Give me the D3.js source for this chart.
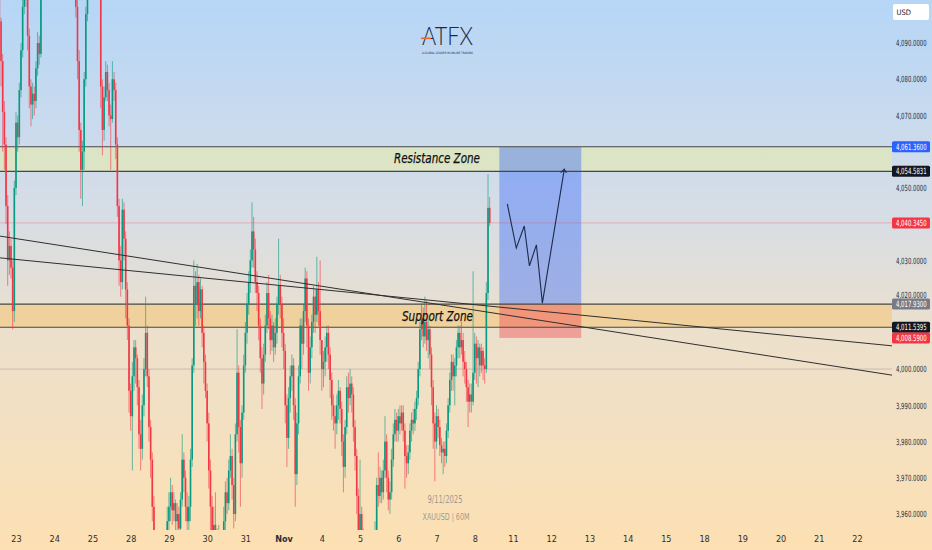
<!DOCTYPE html>
<html lang="en">

<head>
    <meta charset="UTF-8">
    <meta name="viewport" content="width=device-width, initial-scale=1.0">
    <script src="https://d3js.org/d3.v7.min.js"></script>
    <title>XAUUSD 60M</title>
    <style>
        body { margin: 0; }
        svg { display: block; }
    </style>
</head>

<body>
    <div id="container"></div>
    <script>
        const width = 932, height = 550;
        const plotRight = 892, plotBottom = 530;

        // hourly candles, open = previous close; first row is the tail of the 22nd
        const firstOpen = 4106;
        const startIndex = -10;
        const closes = [
            4096, 4085, 4071, 4062, 4045, 4030, 4034, 4028, 4016, 4050,
            4068, 4064, 4077, 4088, 4100, 4108, 4104, 4092, 4078, 4073, 4076, 4074, 4083, 4090, 4087, 4104, 4110, 4115, 4112, 4118, 4114, 4110, 4113,
            4118, 4122, 4119, 4125, 4121, 4116, 4120, 4124, 4119, 4114, 4117, 4112, 4108, 4100, 4085, 4066, 4055, 4060, 4080, 4098, 4108, 4112, 4115,
            4118, 4112, 4116, 4110, 4106, 4078, 4066, 4075, 4082, 4077, 4070, 4069, 4080, 4077, 4062, 4045, 4030, 4024, 4044, 4036, 4022, 4012, 3994,
            3987, 3998, 4006, 4003, 3995, 3982, 3978, 3990, 4000, 4010, 3998, 3984, 3975, 3962, 3952, 3945, 3940, 3944, 3938, 3942, 3946, 3950, 3958,
            3962, 3966, 3961, 3963, 3958, 3960, 3956, 3964, 3975, 3970, 3962, 3958, 3962, 3975, 4001, 4023, 4018, 4024, 4016, 4022, 4010, 4002, 3994,
            3985, 3972, 3962, 3952, 3957, 3953, 3949, 3953, 3948, 3952, 3958, 3966, 3963, 3972, 3976, 3968, 3960, 3982, 3999, 3984, 3974, 3988, 4001,
            4010, 4018, 4024, 4030, 4038, 4033, 4024, 4021, 4012, 4003, 3996, 4004, 4012, 4021, 4014, 4008, 4012, 4006, 4010, 4018, 4023, 4018, 4010,
            4005, 3990, 3981, 3992, 3998, 4001, 3990, 3971, 3985, 3998, 4012, 4007, 4016, 4025, 4012, 3999, 4006, 4013, 4020, 4015, 4022, 4016, 4008,
            4000, 4002, 4006, 4010, 4004, 3997, 3990, 3987, 3985, 3990, 3994, 3989, 3980, 3973, 3984, 3995, 3992, 3996, 3993, 3984, 3976, 3965, 3954,
            3960, 3955, 3950, 3946, 3942, 3945, 3940, 3944, 3948, 3955, 3968, 3965, 3970, 3966, 3972, 3980, 3970, 3964, 3966, 3975, 3982, 3986, 3983,
            3987, 3985, 3988, 3983, 3976, 3974, 3977, 3983, 3986, 3985, 3989, 3992, 4000, 4011, 4014, 4009, 4013, 4008, 4011, 4004, 3995, 3985, 3980,
            3987, 3984, 3979, 3977, 3978, 3976, 3983, 3990, 3997, 4002, 3998, 4001, 4006, 4010, 4006, 4008, 4002, 4000, 3995, 3991, 3993, 3991, 3999,
            4007, 4003, 4006, 4001, 4005, 4001, 4000, 4021, 4044.5, 4040.345
        ];
        const highs = [
            4110, 4097, 4087, 4074, 4064, 4048, 4038, 4036, 4030, 4052,
            4071, 4070, 4079, 4090, 4103, 4112, 4110, 4106, 4094, 4080, 4079, 4078, 4085, 4093, 4092, 4106, 4113, 4119, 4118, 4121, 4120, 4116, 4117,
            4121, 4126, 4125, 4128, 4127, 4123, 4123, 4127, 4126, 4121, 4120, 4119, 4114, 4110, 4102, 4088, 4068, 4063, 4082, 4100, 4112, 4116, 4119,
            4122, 4120, 4119, 4117, 4112, 4108, 4080, 4078, 4085, 4084, 4079, 4073, 4085, 4082, 4079, 4064, 4047, 4034, 4047, 4046, 4038, 4024, 4014,
            3996, 4002, 4008, 4008, 4004, 3997, 3986, 3993, 4003, 4020, 4012, 4000, 3986, 3977, 3965, 3955, 3950, 3949, 3947, 3948, 3952, 3954, 3962,
            3966, 3970, 3968, 3966, 3964, 3963, 3962, 3966, 3982, 3977, 3972, 3966, 3965, 3978, 4003, 4030, 4027, 4029, 4026, 4025, 4023, 4012, 4004,
            3996, 3988, 3975, 3965, 3962, 3966, 3956, 3957, 3955, 3955, 3962, 3969, 3970, 3975, 3982, 3978, 3970, 3985, 4011, 4001, 3986, 3990, 4004,
            4013, 4021, 4027, 4033, 4046, 4042, 4036, 4027, 4023, 4014, 4006, 4007, 4015, 4024, 4026, 4016, 4015, 4013, 4014, 4020, 4036, 4026, 4020,
            4014, 4007, 3993, 3995, 4001, 4004, 4003, 3992, 3988, 4001, 4014, 4014, 4018, 4028, 4027, 4014, 4009, 4015, 4023, 4022, 4031, 4024, 4030,
            4008, 4005, 4009, 4012, 4012, 4006, 3999, 3993, 3990, 3993, 3997, 3995, 3991, 3982, 3986, 3998, 3999, 4000, 3998, 3995, 3986, 3978, 3967,
            3975, 3962, 3956, 3952, 3950, 3949, 3947, 3948, 3952, 3958, 3970, 3977, 3973, 3972, 3975, 3987, 3982, 3972, 3969, 3978, 3985, 3989, 3988,
            3989, 3990, 3990, 3990, 3985, 3979, 3979, 3985, 3988, 3989, 3991, 3994, 4002, 4013, 4018, 4017, 4020, 4019, 4014, 4012, 4006, 3997, 3988,
            3990, 3989, 3986, 3981, 3980, 3980, 3985, 3992, 3999, 4004, 4004, 4003, 4008, 4012, 4012, 4013, 4010, 4005, 4002, 3997, 3996, 3996, 4027,
            4010, 4009, 4008, 4007, 4007, 4006, 4003, 4024, 4053.8, 4047.5
        ];
        const lows = [
            4092, 4078, 4060, 4055, 4040, 4023, 4026, 4025, 4011, 4013,
            4048, 4060, 4062, 4075, 4086, 4098, 4100, 4088, 4072, 4067, 4069, 4070, 4072, 4081, 4084, 4086, 4103, 4108, 4108, 4110, 4110, 4106, 4107,
            4110, 4115, 4114, 4117, 4116, 4112, 4113, 4117, 4115, 4110, 4111, 4108, 4105, 4097, 4080, 4060, 4047, 4045, 4055, 4078, 4096, 4106, 4109,
            4110, 4106, 4108, 4105, 4103, 4072, 4059, 4063, 4074, 4074, 4067, 4055, 4068, 4074, 4058, 4042, 4023, 4020, 4022, 4030, 4014, 4008, 3988,
            3983, 3972, 3994, 3996, 3990, 3978, 3972, 3975, 3987, 3998, 3995, 3980, 3970, 3958, 3948, 3940, 3935, 3936, 3932, 3935, 3940, 3944, 3948,
            3952, 3958, 3957, 3958, 3953, 3954, 3950, 3953, 3962, 3966, 3958, 3954, 3955, 3958, 3973, 3999, 4012, 4014, 4012, 4014, 4006, 3996, 3992,
            3980, 3967, 3955, 3946, 3948, 3948, 3944, 3946, 3942, 3944, 3950, 3955, 3960, 3961, 3970, 3964, 3956, 3958, 3980, 3977, 3962, 3970, 3986,
            3999, 4007, 4015, 4021, 4028, 4028, 4021, 4016, 4008, 3999, 3989, 3993, 4002, 4010, 4011, 4004, 4005, 4002, 4004, 4007, 4015, 4014, 4006,
            4000, 3985, 3973, 3978, 3988, 3994, 3986, 3962, 3968, 3982, 3996, 4000, 4004, 4013, 4006, 3994, 3996, 4003, 4010, 4010, 4013, 4012, 4004,
            3994, 3995, 3998, 4002, 4000, 3992, 3986, 3983, 3978, 3982, 3986, 3985, 3976, 3966, 3970, 3982, 3988, 3990, 3988, 3980, 3972, 3960, 3948,
            3952, 3950, 3944, 3940, 3936, 3938, 3934, 3937, 3942, 3946, 3952, 3962, 3963, 3963, 3964, 3970, 3966, 3961, 3960, 3964, 3973, 3980, 3980,
            3980, 3982, 3983, 3980, 3967, 3970, 3971, 3975, 3980, 3982, 3983, 3986, 3990, 3998, 4008, 4006, 4007, 4005, 4003, 4000, 3990, 3978, 3969,
            3978, 3981, 3976, 3974, 3971, 3973, 3974, 3981, 3988, 3994, 3994, 3990, 3998, 4003, 4003, 4004, 3998, 3996, 3991, 3984, 3988, 3988, 3990,
            3997, 3996, 3995, 3998, 3999, 3997, 3996, 3999, 4019, 4039.5
        ];

        // one label per trading day, 23 hourly bars each
        const dayLabels = ["23", "24", "25", "28", "29", "30", "31", "Nov", "4", "5", "6", "7", "8",
            "11", "12", "13", "14", "15", "18", "19", "20", "21", "22"];
        const barsPerDay = 23;
        const priceTicks = [3960, 3970, 3980, 3990, 4000, 4020, 4030, 4050, 4070, 4080, 4090];

        // zones and drawings (bar index, price)
        const resistanceZone = [4054.5831, 4061.36];
        const supportZone = [4011.5395, 4017.93];
        const lastPrice = 4040.345;
        const roundLevel = 4000;
        const trendA = [[-9.6, 4036.7], [527.4, 3998.3]];
        const trendB = [[-9.6, 4030.7], [527.4, 4006.4]];
        const positionBars = [290.8, 340.1];
        const positionPrices = { target: 4061.36, entry: 4017.93, stop: 4008.59 };
        const projection = [[295.6, 4045.6], [301, 4033.4], [305.8, 4039.5], [308.9, 4028.5],
            [313.1, 4034.3], [316.7, 4018.2], [329.9, 4055.2]];

        // price scale labels
        const labelValues = [4061.36, 4054.5831, 4040.345, 4017.93, 4011.5395, 4008.59];
        const labelColors = ["#2962ff", "#131722", "#f23645", "#787b86", "#131722", "#f23645"];

        const green = "#089981", red = "#f23645";
        const fmt = d3.format(",.4f");
        const axisFont = "'DejaVu Sans Condensed', sans-serif";
        const squeeze = 0.7; // price scale text is narrow in the original

        const svg = d3.select("#container")
            .append("svg")
            .attr("width", width)
            .attr("height", height);

        const defs = svg.append("defs");
        const grad = defs.append("linearGradient")
            .attr("id", "bg")
            .attr("x1", 0).attr("y1", 0).attr("x2", 0).attr("y2", 1);
        [["0%", "#b6d6f7"], ["38%", "#d6dde6"], ["62%", "#ede0cb"], ["100%", "#fde0b3"]].forEach(s => {
            grad.append("stop").attr("offset", s[0]).attr("stop-color", s[1]);
        });
        defs.append("clipPath")
            .attr("id", "plotClip")
            .append("rect")
            .attr("width", plotRight)
            .attr("height", plotBottom);
        defs.append("marker")
            .attr("id", "arrow")
            .attr("markerWidth", 8)
            .attr("markerHeight", 8)
            .attr("refX", 4)
            .attr("refY", 4)
            .attr("orient", "auto")
            .attr("markerUnits", "userSpaceOnUse")
            .append("path")
            .attr("d", "M0,1 L4,4 L0,7")
            .attr("fill", "none")
            .attr("stroke", "#1e2a4a")
            .attr("stroke-width", 1);

        svg.append("rect")
            .attr("width", width)
            .attr("height", height)
            .attr("fill", "url(#bg)");

        const x = d3.scaleLinear()
            .domain([0, barsPerDay * (dayLabels.length - 1)])
            .range([16, 857]);
        const y = d3.scaleLinear()
            .domain([3960, 4090])
            .range([514, 43]);

        const candles = closes.map((c, i) => ({
            i: startIndex + i,
            o: i === 0 ? firstOpen : closes[i - 1],
            h: highs[i],
            l: lows[i],
            c: c
        }));

        const plot = svg.append("g").attr("clip-path", "url(#plotClip)");

        // zones
        [[resistanceZone, "#e3eaae", 0.62], [supportZone, "#f6c572", 0.55]].forEach(z => {
            plot.append("rect")
                .attr("x", 0)
                .attr("width", plotRight)
                .attr("y", y(z[0][1]))
                .attr("height", y(z[0][0]) - y(z[0][1]))
                .attr("fill", z[1])
                .attr("fill-opacity", z[2]);
        });

        // long position box
        plot.append("rect")
            .attr("x", x(positionBars[0]))
            .attr("width", x(positionBars[1]) - x(positionBars[0]))
            .attr("y", y(positionPrices.target))
            .attr("height", y(positionPrices.entry) - y(positionPrices.target))
            .attr("fill", "#2962ff")
            .attr("fill-opacity", 0.38);
        plot.append("rect")
            .attr("x", x(positionBars[0]))
            .attr("width", x(positionBars[1]) - x(positionBars[0]))
            .attr("y", y(positionPrices.entry))
            .attr("height", y(positionPrices.stop) - y(positionPrices.entry))
            .attr("fill", "#f23645")
            .attr("fill-opacity", 0.38);

        // horizontal levels
        plot.append("line")
            .attr("x1", 0).attr("x2", plotRight)
            .attr("y1", y(roundLevel)).attr("y2", y(roundLevel))
            .attr("stroke", "#9a9a9a")
            .attr("stroke-opacity", 0.6)
            .attr("stroke-width", 0.8);
        plot.append("line")
            .attr("x1", 0).attr("x2", plotRight)
            .attr("y1", y(lastPrice)).attr("y2", y(lastPrice))
            .attr("stroke", red)
            .attr("stroke-opacity", 0.35)
            .attr("stroke-width", 0.8);
        plot.append("g")
            .selectAll("line")
            .data(resistanceZone.concat(supportZone))
            .join("line")
            .attr("x1", 0).attr("x2", plotRight)
            .attr("y1", d => y(d)).attr("y2", d => y(d))
            .attr("stroke", "#474747")
            .attr("stroke-width", 1.2);

        // candles
        plot.append("g")
            .selectAll("line")
            .data(candles)
            .join("line")
            .attr("x1", d => x(d.i))
            .attr("x2", d => x(d.i))
            .attr("y1", d => y(d.h))
            .attr("y2", d => y(d.l))
            .attr("stroke", d => d.c >= d.o ? green : red)
            .attr("stroke-opacity", 0.6)
            .attr("stroke-width", 1);
        plot.append("g")
            .selectAll("rect")
            .data(candles)
            .join("rect")
            .attr("x", d => x(d.i) - 0.8)
            .attr("width", 1.6)
            .attr("y", d => y(Math.max(d.o, d.c)))
            .attr("height", d => Math.max(0.8, Math.abs(y(d.o) - y(d.c))))
            .attr("fill", d => d.c >= d.o ? green : red);

        // trend lines
        const line = d3.line().x(d => x(d[0])).y(d => y(d[1]));
        [trendA, trendB].forEach(t => {
            plot.append("path")
                .attr("d", line(t))
                .attr("fill", "none")
                .attr("stroke", "#2f2f2f")
                .attr("stroke-width", 1);
        });

        // projected path
        plot.append("path")
            .attr("d", line(projection))
            .attr("fill", "none")
            .attr("stroke", "#1e2a4a")
            .attr("stroke-width", 1.1)
            .attr("marker-end", "url(#arrow)");

        // zone captions
        plot.append("text")
            .attr("x", 480).attr("y", 163)
            .attr("text-anchor", "end")
            .attr("font-family", "'DejaVu Sans Condensed', 'Liberation Sans Narrow', sans-serif")
            .attr("font-style", "italic")
            .attr("font-size", 14)
            .attr("textLength", 86)
            .attr("lengthAdjust", "spacingAndGlyphs")
            .attr("fill", "#111")
            .attr("stroke", "#111")
            .attr("stroke-width", 0.25)
            .text("Resistance Zone");
        plot.append("text")
            .attr("x", 473).attr("y", 321)
            .attr("text-anchor", "end")
            .attr("font-family", "'DejaVu Sans Condensed', 'Liberation Sans Narrow', sans-serif")
            .attr("font-style", "italic")
            .attr("font-size", 14)
            .attr("textLength", 71)
            .attr("lengthAdjust", "spacingAndGlyphs")
            .attr("fill", "#111")
            .attr("stroke", "#111")
            .attr("stroke-width", 0.25)
            .text("Support Zone");

        // logo
        const logo = svg.append("g").attr("fill", "#1c2947");
        logo.append("text")
            .attr("x", 422).attr("y", 45)
            .attr("font-family", "Lato, 'Open Sans', sans-serif")
            .attr("font-weight", 300)
            .attr("font-size", 26)
            .attr("textLength", 51)
            .attr("lengthAdjust", "spacingAndGlyphs")
            .text("ATFX");
        logo.append("line")
            .attr("x1", 421).attr("x2", 431)
            .attr("y1", 38.3).attr("y2", 38.3)
            .attr("stroke", "#f26522")
            .attr("stroke-width", 1.6);
        logo.append("text")
            .attr("x", 422).attr("y", 53.5)
            .attr("font-family", "'DejaVu Sans', sans-serif")
            .attr("font-size", 3)
            .attr("textLength", 51)
            .attr("lengthAdjust", "spacingAndGlyphs")
            .text("A GLOBAL LEADER IN ONLINE TRADING");

        // watermark
        const mark = svg.append("g")
            .attr("fill", "#8b8b8b")
            .attr("fill-opacity", 0.85)
            .attr("text-anchor", "middle")
            .attr("font-family", axisFont);
        mark.append("text")
            .attr("x", 445).attr("y", 503)
            .attr("font-size", 10)
            .attr("textLength", 35)
            .attr("lengthAdjust", "spacingAndGlyphs")
            .text("9/11/2025");
        mark.append("text")
            .attr("x", 446).attr("y", 519.5)
            .attr("font-size", 9.5)
            .attr("textLength", 47)
            .attr("lengthAdjust", "spacingAndGlyphs")
            .text("XAUUSD | 60M");

        // time axis
        svg.append("g")
            .attr("transform", `translate(0,${plotBottom})`)
            .call(d3.axisBottom(x)
                .tickValues(dayLabels.map((d, i) => i * barsPerDay))
                .tickFormat((d, i) => dayLabels[i])
                .tickSize(0)
                .tickPadding(6))
            .call(g => g.select(".domain").remove())
            .call(g => g.selectAll("text")
                .attr("font-family", axisFont)
                .attr("font-size", 9)
                .attr("font-weight", (d, i) => dayLabels[i] === "Nov" ? 600 : 400)
                .attr("fill", "#2a2e39"));

        // price axis
        svg.append("g")
            .attr("transform", `translate(${plotRight + 1},0)`)
            .call(d3.axisRight(y)
                .tickValues(priceTicks)
                .tickFormat(fmt)
                .tickSize(0)
                .tickPadding(3))
            .call(g => g.select(".domain").remove())
            .call(g => g.selectAll("text")
                .attr("font-family", axisFont)
                .attr("font-size", 8.5)
                .attr("x", 3 / squeeze)
                .attr("dy", (d) => d === 4020 ? "0.1em" : "0.32em")
                .attr("transform", `scale(${squeeze},1)`)
                .attr("fill", "#2a2e39"));

        const tags = svg.append("g")
            .selectAll("g")
            .data(labelValues)
            .join("g")
            .attr("transform", d => `translate(${plotRight},${y(d)})`);
        tags.append("rect")
            .attr("x", 0).attr("y", -5.5)
            .attr("width", 38).attr("height", 11)
            .attr("rx", 1.5)
            .attr("fill", (d, i) => labelColors[i]);
        tags.append("text")
            .attr("transform", `translate(4,3.1) scale(${squeeze},1)`)
            .attr("font-family", axisFont)
            .attr("font-size", 8.5)
            .attr("fill", "#fff")
            .text(d => fmt(d));

        // currency box
        svg.append("rect")
            .attr("x", 893).attr("y", 4)
            .attr("width", 36).attr("height", 16)
            .attr("rx", 2)
            .attr("fill", "#fff");
        svg.append("text")
            .attr("x", 896.5).attr("y", 14.8)
            .attr("font-family", axisFont)
            .attr("font-size", 7.5)
            .attr("fill", "#131722")
            .text("USD");
    </script>
</body>

</html>
